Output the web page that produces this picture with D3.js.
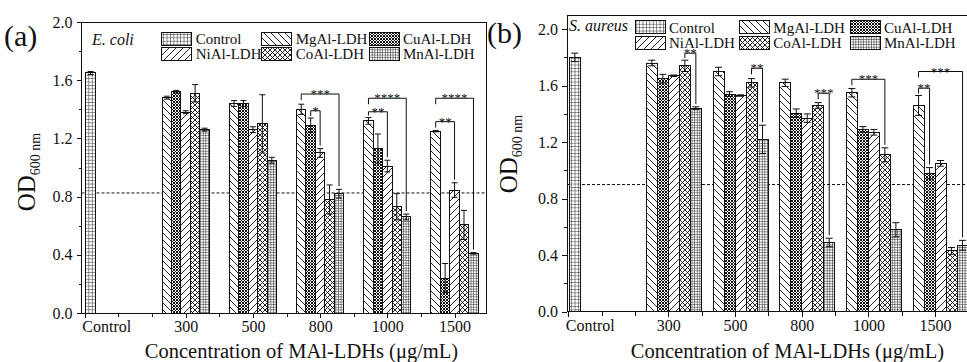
<!DOCTYPE html>
<html>
<head>
<meta charset="utf-8">
<script src="https://cdn.jsdelivr.net/npm/d3@7"></script>
<style>
  body { margin: 0; background: #fff; }
  text { font-family: "Liberation Serif", "Times New Roman", serif; fill: #111; }
  .crisp, .crisp line, rect.bar { shape-rendering: crispEdges; }
</style>
</head>
<body>
<svg id="chart" width="967" height="362"></svg>
<script>
// ---- data ----
const concentrations = ["300", "500", "800", "1000", "1500"];
const seriesNames = ["MgAl-LDH", "CuAl-LDH", "NiAl-LDH", "CoAl-LDH", "MnAl-LDH"];
const legendOrder = ["Control", "MgAl-LDH", "CuAl-LDH", "NiAl-LDH", "CoAl-LDH", "MnAl-LDH"];
const xTickLabels = ["Control", "300", "500", "800", "1000", "1500"];

// E. coli
const ecoliControl = { mean: 1.65, err: 0.01 };
const ecoliMeans = {
  "MgAl-LDH": [1.48, 1.44, 1.40, 1.32, 1.25],
  "CuAl-LDH": [1.52, 1.44, 1.29, 1.13, 0.24],
  "NiAl-LDH": [1.38, 1.26, 1.10, 1.01, 0.845],
  "CoAl-LDH": [1.51, 1.30, 0.78, 0.73, 0.605],
  "MnAl-LDH": [1.26, 1.05, 0.82, 0.66, 0.41]
};
const ecoliErrors = {
  "MgAl-LDH": [0.01, 0.02, 0.035, 0.023, 0.005],
  "CuAl-LDH": [0.01, 0.02, 0.05, 0.10, 0.10],
  "NiAl-LDH": [0.01, 0.02, 0.03, 0.04, 0.05],
  "CoAl-LDH": [0.06, 0.20, 0.10, 0.09, 0.10],
  "MnAl-LDH": [0.01, 0.02, 0.03, 0.02, 0.005]
};
const ecoliHalfLine = 0.825;
const ecoliBrackets = [
  { group: "800", from: "MgAl-LDH", to: "MnAl-LDH", top: 1.505, label: "***" },
  { group: "800", from: "CuAl-LDH", to: "NiAl-LDH", top: 1.39, label: "*" },
  { group: "1000", from: "MgAl-LDH", to: "MnAl-LDH", top: 1.476, label: "****" },
  { group: "1000", from: "MgAl-LDH", to: "NiAl-LDH", top: 1.383, label: "**" },
  { group: "1500", from: "MgAl-LDH", to: "MnAl-LDH", top: 1.476, label: "****" },
  { group: "1500", from: "MgAl-LDH", to: "NiAl-LDH", top: 1.315, label: "**" }
];

// S. aureus
const saureusControl = { mean: 1.80, err: 0.03 };
const saureusMeans = {
  "MgAl-LDH": [1.76, 1.70, 1.62, 1.55, 1.46],
  "CuAl-LDH": [1.65, 1.54, 1.405, 1.29, 0.98],
  "NiAl-LDH": [1.67, 1.53, 1.37, 1.27, 1.05],
  "CoAl-LDH": [1.74, 1.62, 1.46, 1.11, 0.43],
  "MnAl-LDH": [1.44, 1.22, 0.49, 0.58, 0.47]
};
const saureusErrors = {
  "MgAl-LDH": [0.02, 0.03, 0.026, 0.03, 0.07],
  "CuAl-LDH": [0.03, 0.017, 0.03, 0.02, 0.04],
  "NiAl-LDH": [0.005, 0.005, 0.03, 0.02, 0.02],
  "CoAl-LDH": [0.04, 0.03, 0.02, 0.05, 0.024],
  "MnAl-LDH": [0.01, 0.10, 0.03, 0.05, 0.035]
};
const saureusHalfLine = 0.9;
const saureusBrackets = [
  { group: "300", from: "CoAl-LDH", to: "MnAl-LDH", top: 1.83, label: "**" },
  { group: "500", from: "CoAl-LDH", to: "MnAl-LDH", top: 1.723, label: "**" },
  { group: "800", from: "CoAl-LDH", to: "MnAl-LDH", top: 1.546, label: "***" },
  { group: "1000", from: "MgAl-LDH", to: "CoAl-LDH", top: 1.645, label: "***" },
  { group: "1500", from: "MgAl-LDH", to: "MnAl-LDH", top: 1.70, label: "***" },
  { group: "1500", from: "MgAl-LDH", to: "CuAl-LDH", top: 1.582, label: "**" }
];

const svg = d3.select("#chart");
const ink = "#111";

// ---- hatch patterns ----
const defs = svg.append("defs");
function hatch(id, size, d, width) {
  const p = defs.append("pattern")
    .attr("id", id)
    .attr("patternUnits", "userSpaceOnUse")
    .attr("width", size).attr("height", size);
  p.append("rect").attr("width", size).attr("height", size).attr("fill", "#fff");
  p.append("path").attr("d", d).attr("stroke", ink).attr("stroke-width", width).attr("fill", "none");
}
const back = s => `M0,0L${s},${s}M-1,${s - 1}L1,${s + 1}M${s - 1},-1L${s + 1},1`;
const fwd = s => `M0,${s}L${s},0M-1,1L1,-1M${s - 1},${s + 1}L${s + 1},${s - 1}`;
const grid = s => `M0,0H${s}M0,0V${s}`;
hatch("p-Control", 3.4, grid(3.4), 0.9);
hatch("p-MgAl-LDH", 7, back(7), 0.9);
hatch("p-NiAl-LDH", 7, fwd(7), 0.9);
hatch("p-CuAl-LDH", 3, back(3) + fwd(3), 1.0);
hatch("p-CoAl-LDH", 5, back(5) + fwd(5), 0.9);
hatch("p-MnAl-LDH", 2.6, grid(2.6), 1.0);

const fillOf = name => `url(#p-${name})`;

function drawPanel(p) {
  const g = svg.append("g");
  const x = d3.scaleLinear().domain(p.xDomain).range([p.left, p.right]);
  const y = d3.scaleLinear().domain([0, p.yMax]).range([p.bottom, p.top]);
  const groupPos = i => 3 + 2 * i;
  const bw = x(p.barUnits) - x(0);
  const barX = (gi, k) => x(groupPos(gi)) + (k + p.offset) * bw;

  // dashed half-control line
  g.append("line")
    .attr("x1", p.left).attr("x2", p.right)
    .attr("y1", y(p.halfLine)).attr("y2", y(p.halfLine))
    .attr("stroke", ink).attr("stroke-width", 1)
    .attr("stroke-dasharray", "3,2");

  // bars
  const bars = [];
  bars.push({ name: "Control", x0: x(p.controlStart), w: x(p.controlUnits) - x(0),
              mean: p.control.mean, err: p.control.err });
  concentrations.forEach((c, gi) => {
    seriesNames.forEach((s, k) => {
      bars.push({ name: s, x0: barX(gi, k), w: bw, mean: p.means[s][gi], err: p.errors[s][gi] });
    });
  });

  g.selectAll(".bar").data(bars).join("rect")
    .attr("class", "bar")
    .attr("x", d => d.x0).attr("width", d => d.w)
    .attr("y", d => y(d.mean)).attr("height", d => y(0) - y(d.mean))
    .attr("fill", d => fillOf(d.name))
    .attr("stroke", ink).attr("stroke-width", 1);

  // error bars
  const eb = g.selectAll(".err").data(bars).join("g").attr("class", "err")
    .attr("stroke", ink).attr("stroke-width", 1);
  const cap = p.cap;
  eb.append("line")
    .attr("x1", d => d.x0 + d.w / 2).attr("x2", d => d.x0 + d.w / 2)
    .attr("y1", d => y(d.mean - d.err)).attr("y2", d => y(d.mean + d.err));
  eb.append("line")
    .attr("x1", d => d.x0 + d.w / 2 - cap).attr("x2", d => d.x0 + d.w / 2 + cap)
    .attr("y1", d => y(d.mean + d.err)).attr("y2", d => y(d.mean + d.err));
  eb.append("line")
    .attr("x1", d => d.x0 + d.w / 2 - cap).attr("x2", d => d.x0 + d.w / 2 + cap)
    .attr("y1", d => y(d.mean - d.err)).attr("y2", d => y(d.mean - d.err));

  // significance brackets
  p.brackets.forEach(b => {
    const gi = concentrations.indexOf(b.group);
    const k1 = seriesNames.indexOf(b.from), k2 = seriesNames.indexOf(b.to);
    const xa = barX(gi, k1) + bw / 2, xb = barX(gi, k2) + bw / 2;
    const yt = y(b.top);
    const ya = Math.min(yt + 6, y(p.means[b.from][gi] + p.errors[b.from][gi]) - 2);
    const yb = y(p.means[b.to][gi] + p.errors[b.to][gi]) - 3;
    g.append("path")
      .attr("d", `M${xa},${ya}V${yt}H${xb}V${yb}`)
      .attr("fill", "none").attr("stroke", ink).attr("stroke-width", 1);
    g.append("text")
      .attr("x", (xa + xb) / 2).attr("y", yt + 4)
      .attr("text-anchor", "middle").attr("font-size", 13)
      .text(b.label);
  });

  // frame
  g.append("rect")
    .attr("class", "crisp")
    .attr("x", p.left).attr("y", p.top)
    .attr("width", p.right - p.left).attr("height", p.bottom - p.top)
    .attr("fill", "none").attr("stroke", ink).attr("stroke-width", 1);

  // y axis
  const yMajor = d3.range(0, p.yMax + 1e-6, 0.4);
  const yMinor = d3.range(0.2, p.yMax, 0.4);
  g.append("g").attr("class", "crisp").attr("transform", `translate(${p.left},0)`)
    .call(d3.axisLeft(y).tickValues(yMinor).tickSize(3).tickFormat(""))
    .call(a => a.select(".domain").remove())
    .call(a => a.selectAll("line").attr("stroke", ink));
  g.append("g").attr("class", "crisp").attr("transform", `translate(${p.left},0)`)
    .call(d3.axisLeft(y).tickValues(yMajor).tickSize(5).tickPadding(4).tickFormat(d3.format(".1f")))
    .call(a => a.select(".domain").remove())
    .call(a => a.selectAll("text").attr("font-size", 16).attr("font-family", null).attr("fill", ink))
    .call(a => a.selectAll("line").attr("stroke", ink));

  // x axis
  const labelPos = [0].concat(concentrations.map((c, i) => groupPos(i)));
  g.append("g").attr("class", "crisp").attr("transform", `translate(0,${p.bottom})`)
    .call(d3.axisBottom(x).tickValues(d3.range(0, 12)).tickSize(4).tickFormat(""))
    .call(a => a.select(".domain").remove())
    .call(a => a.selectAll("line").attr("stroke", ink));
  g.append("g").attr("class", "crisp").attr("transform", `translate(0,${p.bottom})`)
    .call(d3.axisBottom(x).tickValues(labelPos).tickSize(5).tickPadding(3)
      .tickFormat((d, i) => xTickLabels[i]))
    .call(a => a.select(".domain").remove())
    .call(a => a.selectAll("line").attr("stroke", ink))
    .call(a => a.selectAll("text").attr("font-size", 16).attr("font-family", null).attr("fill", ink))
    .call(a => a.selectAll("text").filter((d, i) => i === 0)
      .attr("text-anchor", "start").attr("x", -3));

  // axis titles
  const yt = g.append("text")
    .attr("transform", `translate(${p.yTitleX},${p.yTitleY}) rotate(-90)`)
    .attr("text-anchor", "middle");
  yt.append("tspan").attr("font-size", 25).text("OD");
  yt.append("tspan").attr("font-size", 14).attr("dy", 5).text("600 nm");

  g.append("text")
    .attr("x", p.xTitleX).attr("y", 358)
    .attr("text-anchor", "middle").attr("font-size", 20.5)
    .text("Concentration of MAl-LDHs (\u03bcg/mL)");

  // panel tag and organism
  g.append("text").attr("x", p.tagX).attr("y", p.tagY).attr("font-size", 30).text(p.tag);
  g.append("text").attr("x", p.orgX).attr("y", p.orgY)
    .attr("font-size", 16).attr("font-style", "italic").text(p.organism);

  // legend
  legendOrder.forEach((name, i) => {
    const col = i % 3, row = Math.floor(i / 3);
    const lx = p.legendCols[col], ly = p.legendRows[row];
    g.append("rect")
      .attr("class", "crisp")
      .attr("x", lx).attr("y", ly).attr("width", 30).attr("height", 13)
      .attr("fill", fillOf(name)).attr("stroke", ink).attr("stroke-width", 1);
    g.append("text")
      .attr("x", lx + 34).attr("y", ly + 12)
      .attr("font-size", 15).text(name);
  });
}

drawPanel({
  left: 81.5, right: 486.5, top: 22, bottom: 313,
  xDomain: [-0.1, 11.95], yMax: 2.0,
  barUnits: 0.281, offset: -2.5, controlStart: 0.02, controlUnits: 0.3, cap: 3,
  control: ecoliControl, means: ecoliMeans, errors: ecoliErrors,
  halfLine: ecoliHalfLine, brackets: ecoliBrackets,
  yTitleX: 35, yTitleY: 172, xTitleX: 301.5,
  tag: "(a)", tagX: 4, tagY: 46, organism: "E. coli", orgX: 92, orgY: 44.5,
  legendCols: [161.7, 261.7, 369], legendRows: [32, 47]
});

drawPanel({
  left: 567, right: 968.4, top: 15, bottom: 311.7,
  xDomain: [-0.04, 12], yMax: 2.1,
  barUnits: 0.33, offset: -2, controlStart: 0.02, controlUnits: 0.35, cap: 3.5,
  control: saureusControl, means: saureusMeans, errors: saureusErrors,
  halfLine: saureusHalfLine, brackets: saureusBrackets,
  yTitleX: 517, yTitleY: 154, xTitleX: 787.5,
  tag: "(b)", tagX: 487, tagY: 43, organism: "S. aureus", orgX: 569, orgY: 30.5,
  legendCols: [635, 739.3, 850], legendRows: [20.7, 36]
});
</script>
</body>
</html>
